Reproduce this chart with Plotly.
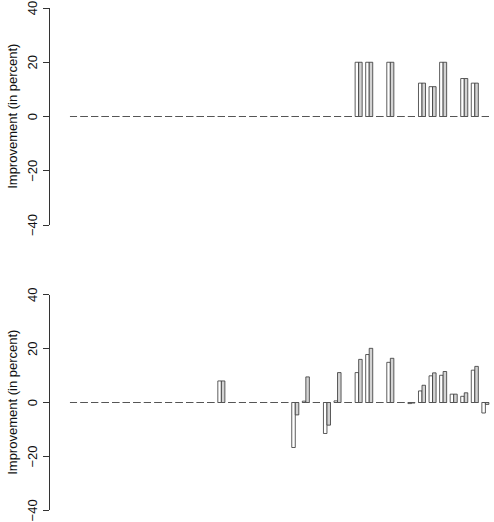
import numpy as np
import plotly.graph_objects as go

# 40 groups, each with two bars (white = first series, grey = second series)
groups = list(range(40))

top_first = [0]*27 + [20, 20, 0, 20, 0, 0, 12.3, 11, 20, 0, 14, 12.3, 0]
top_second = [0]*27 + [20, 20, 0, 20, 0, 0, 12.3, 11, 20, 0, 14, 12.3, 0]

bot_first = ([0]*14 + [8] + [0]*6 +
             [-16.7, 0.5, 0, -11.5, 0.6, 0, 11.1, 17.8, 0, 14.9, 0, -0.4,
              4.3, 9.9, 10.1, 3.1, 2.3, 12.0, -3.9])
bot_second = ([0]*14 + [8] + [0]*6 +
              [-4.6, 9.5, 0, -8.4, 11.1, 0, 16.0, 20.1, 0, 16.4, 0, -0.2,
               6.4, 11.0, 11.5, 3.1, 3.6, 13.4, -0.7])

y_ticks = [-40, -20, 0, 20, 40]
y_ticktext = ["\u221240", "\u221220", "0", "20", "40"]
y_title = "Improvement (in percent)"

g = np.array(groups)
x_first = 3 * g + 1.5
x_second = 3 * g + 2.5

# baseline segments (outline of zero-height bars)
seg_x, seg_y = [], []
for i in groups:
    seg_x += [3 * i + 1, 3 * i + 3, None]
    seg_y += [0, 0, None]

FONT = "Liberation Sans, Arial, Helvetica, sans-serif"
EDGE = "#333333"
fig = go.Figure()

panels = [
    (top_first, top_second, "x", "y"),
    (bot_first, bot_second, "x2", "y2"),
]
for a, b, xa, ya in panels:
    fig.add_trace(go.Scatter(x=seg_x, y=seg_y, mode="lines",
                             line=dict(color="#555555", width=1),
                             hoverinfo="skip", showlegend=False,
                             xaxis=xa, yaxis=ya))
    fig.add_trace(go.Bar(x=x_first, y=a, width=1,
                         marker=dict(color="white", line=dict(color=EDGE, width=0.8)),
                         showlegend=False, xaxis=xa, yaxis=ya))
    fig.add_trace(go.Bar(x=x_second, y=b, width=1,
                         marker=dict(color="#d3d3d3", line=dict(color=EDGE, width=0.8)),
                         showlegend=False, xaxis=xa, yaxis=ya))

W, H = 494, 522


def fx(px):
    return px / W


def fy(py):
    return (H - py) / H


xdom = [fx(49.5), 1.0]
xrange = [-4.82, 121.45]
top_dom = [fy(225), fy(8)]
bot_dom = [fy(510.3), fy(294.7)]

yax = dict(range=[-40, 40], tickvals=y_ticks, ticktext=y_ticktext,
           ticks="outside", ticklen=6, tickcolor=EDGE, tickwidth=1,
           showline=True, linecolor=EDGE, linewidth=1, automargin=False,
           showgrid=False, zeroline=False, tickangle=-90,
           ticklabelstandoff=0, ticklabelshift=2, ticklabeloverflow="allow",
           tickfont=dict(family=FONT, size=13, color="#111111"))
xax = dict(range=xrange, domain=xdom, visible=False, fixedrange=True,
           automargin=False)

fig.update_layout(
    width=W, height=H,
    margin=dict(l=0, r=0, t=0, b=0, pad=0),
    paper_bgcolor="white", plot_bgcolor="white",
    barmode="overlay",
    showlegend=False,
    xaxis=dict(xax, anchor="y"),
    xaxis2=dict(xax, anchor="y2"),
    yaxis=dict(yax, domain=top_dom, anchor="x"),
    yaxis2=dict(yax, domain=bot_dom, anchor="x2"),
    annotations=[
        dict(text=y_title, xref="paper", yref="paper", x=fx(12.3),
             y=fy(116.5), textangle=-90, showarrow=False,
             xanchor="center", yanchor="middle",
             font=dict(family=FONT, size=13, color="#111111")),
        dict(text=y_title, xref="paper", yref="paper", x=fx(12.3),
             y=fy(402.5), textangle=-90, showarrow=False,
             xanchor="center", yanchor="middle",
             font=dict(family=FONT, size=13, color="#111111")),
    ],
)

fig.write_html(
    "out.html",
    config={"displayModeBar": False, "staticPlot": True},
    post_script="document.body.style.margin='0';document.body.style.overflow='hidden';",
)
